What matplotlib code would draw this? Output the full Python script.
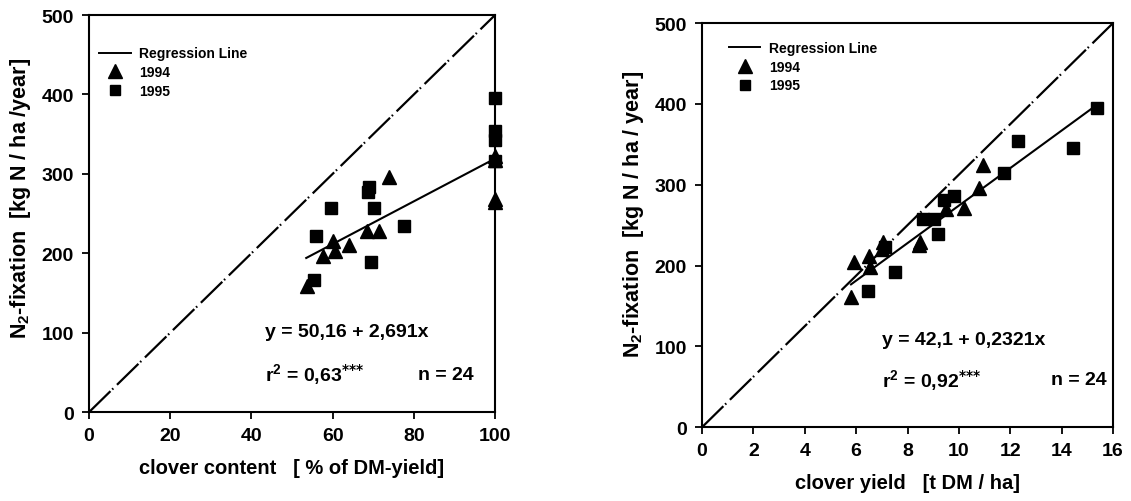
import matplotlib
matplotlib.use("Agg")
import matplotlib.pyplot as plt
from matplotlib.lines import Line2D
import numpy as np

plt.rcParams['font.family'] = ['Liberation Sans', 'DejaVu Sans']
plt.rcParams['font.weight'] = 'bold'
plt.rcParams['mathtext.default'] = 'regular'

# left panel: clover content (%) vs N2-fixation
content_1994 = [53.6, 60.1, 60.6, 57.6, 64.0, 68.4, 71.4, 73.9, 100, 100, 100, 100]
fix_c_1994 = [159, 215, 203, 196, 210, 228, 228, 296, 322, 318, 268, 264]
content_1995 = [55.4, 55.9, 59.6, 68.7, 69.0, 70.2, 69.5, 77.6, 100, 100, 100, 100]
fix_c_1995 = [166, 222, 257, 277, 283, 257, 189, 235, 395, 354, 343, 316]

# right panel: clover yield (t DM/ha) vs N2-fixation
yield_1994 = [5.80, 5.92, 6.50, 6.54, 7.05, 8.49, 9.50, 10.20, 10.78, 10.94, 7.00, 8.45]
fix_y_1994 = [161, 204, 212, 198, 229, 229, 270, 271, 296, 325, 220, 226]
yield_1995 = [6.46, 7.51, 7.12, 8.60, 9.03, 9.19, 9.42, 9.81, 11.76, 12.30, 14.44, 15.38]
fix_y_1995 = [168, 192, 223, 257, 257, 239, 281, 286, 315, 354, 345, 395]

fig = plt.figure(figsize=(11.31, 5.02), dpi=100)
ax1 = fig.add_axes([0.0787, 0.177, 0.359, 0.791])
ax2 = fig.add_axes([0.6207, 0.147, 0.3634, 0.805])

# long dash, small gap, dot, gap (in units of linewidth)
dash = (0, (13.5, 1.1, 0.7, 2.3))


def panel(ax, x94, y94, x95, y95, xmax, xticks, a, b, xfit, xlabel, ylabel,
          eq, r2, eq_x, eq_y, r2_y, n_x, leg_anchor, ylab_y):
    ax.plot([0, xmax], [0, 500], color='black', lw=1.6, linestyle=dash, zorder=1)
    xf = np.array(xfit)
    ax.plot(xf, a + b * xf, color='black', lw=1.5, zorder=2)
    ax.plot(x94, y94, '^', color='black', ms=10.5, clip_on=False, zorder=3)
    ax.plot(x95, y95, 's', color='black', ms=8.5, clip_on=False, zorder=3)
    ax.set_xlim(0, xmax)
    ax.set_ylim(0, 500)
    ax.set_xticks(xticks)
    ax.set_yticks(range(0, 501, 100))
    ax.tick_params(direction='out', length=5, width=1.3, labelsize=14, pad=6)
    for s in ax.spines.values():
        s.set_linewidth(1.5)
    ax.set_xlabel(xlabel, fontsize=14.5, fontweight='bold', labelpad=10)
    ax.set_ylabel(ylabel, fontsize=15.5, fontweight='bold', labelpad=6)
    ax.yaxis.label.set_y(ylab_y)
    ax.text(eq_x, eq_y, eq, fontsize=14, fontweight='bold', va='center')
    ax.text(eq_x, r2_y, r2, fontsize=14, fontweight='bold', va='center')
    ax.text(n_x, r2_y, 'n = 24', fontsize=14, fontweight='bold', va='center')
    handles = [Line2D([], [], color='black', lw=1.4),
               Line2D([], [], marker='^', color='black', ls='none', ms=10),
               Line2D([], [], marker='s', color='black', ls='none', ms=7.5)]
    ax.legend(handles, ['Regression Line', '1994', '1995'], loc='upper left',
              bbox_to_anchor=leg_anchor, frameon=False,
              prop={'size': 10, 'weight': 'bold'}, handlelength=2.3,
              labelspacing=0.35, handletextpad=0.6, borderaxespad=0.0)


panel(ax1, content_1994, fix_c_1994, content_1995, fix_c_1995, 100,
      range(0, 101, 20), 50.16, 2.691, [53.5, 100],
      'clover content   [ % of DM-yield]',
      'N$_2$-fixation  [kg N / ha /year]',
      'y = 50,16 + 2,691x', r'r$^2$ = 0,63$^{\text{***}}$', 43.3, 101, 48, 81,
      (0.01, 0.935), 0.54)

panel(ax2, yield_1994, fix_y_1994, yield_1995, fix_y_1995, 16,
      range(0, 17, 2), 42.1, 23.21, [5.8, 15.4],
      'clover yield   [t DM / ha]',
      'N$_2$-fixation  [kg N / ha / year]',
      'y = 42,1 + 0,2321x', r'r$^2$ = 0,92$^{\text{***}}$', 7.0, 109, 59, 13.6,
      (0.051, 0.97), 0.53)

fig.savefig('out.png', dpi=100)
